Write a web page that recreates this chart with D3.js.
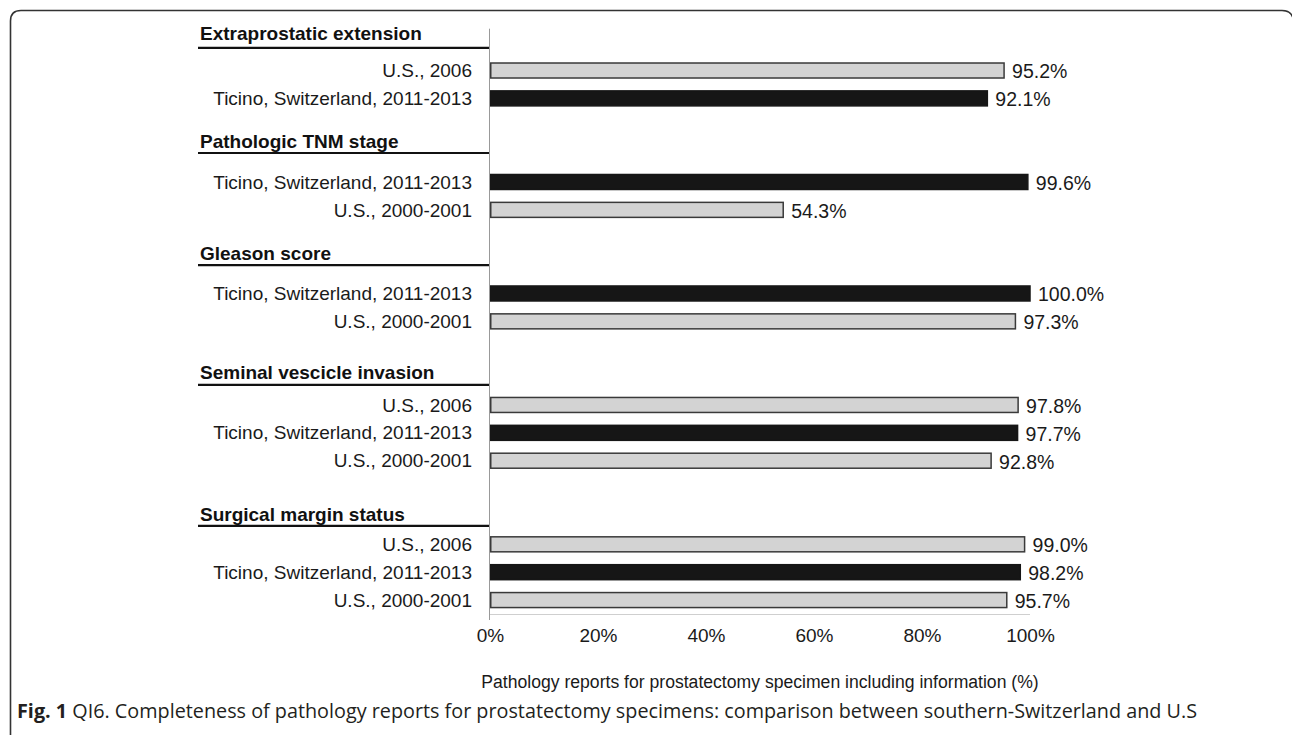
<!DOCTYPE html>
<html>
<head>
<meta charset="utf-8">
<script src="https://cdn.jsdelivr.net/npm/d3@7"></script>
<style>
  html, body { margin: 0; padding: 0; background: #fff; }
  svg { display: block; }
</style>
</head>
<body>
<svg id="chart" width="1292" height="735"></svg>
<script>
// ---------- data ----------
const groupTitles = ["Extraprostatic extension", "Pathologic TNM stage", "Gleason score", "Seminal vescicle invasion", "Surgical margin status"];
const groupFirstRow = [1, 5, 9, 13, 18];
const rowLabels = ["",
  "U.S., 2006", "Ticino, Switzerland, 2011-2013", "", "",
  "Ticino, Switzerland, 2011-2013", "U.S., 2000-2001", "", "",
  "Ticino, Switzerland, 2011-2013", "U.S., 2000-2001", "", "",
  "U.S., 2006", "Ticino, Switzerland, 2011-2013", "U.S., 2000-2001", "", "",
  "U.S., 2006", "Ticino, Switzerland, 2011-2013", "U.S., 2000-2001"];
const rowValues = [null,
  95.2, 92.1, null, null,
  99.6, 54.3, null, null,
  100.0, 97.3, null, null,
  97.8, 97.7, 92.8, null, null,
  99.0, 98.2, 95.7];
const xTicks = [0, 20, 40, 60, 80, 100];
const xTitle = "Pathology reports for prostatectomy specimen including information (%)";
const captionBold = "Fig. 1";
const captionText = " QI6. Completeness of pathology reports for prostatectomy specimens: comparison between southern-Switzerland and U.S";

// ---------- layout ----------
const svg = d3.select("#chart");
const FONT = "'Liberation Sans', Arial, sans-serif";

// frame
svg.append("path")
  .attr("d", "M10.5,740 L10.5,21 Q10.5,10.5 21,10.5 L1282,10.5 Q1292.5,10.5 1293.5,21 L1293.5,740")
  .attr("fill", "none").attr("stroke", "#333").attr("stroke-width", 1.6);

const x = d3.scaleLinear().domain([0, 100]).range([490, 1030]);
const y = d3.scaleBand().domain(d3.range(rowLabels.length)).range([28.7, 614]).paddingInner(0).paddingOuter(0);
const bw = y.bandwidth();
const barH = 15;

// bottom baseline
svg.append("line").attr("x1", x(0)).attr("x2", x(100))
  .attr("y1", y.range()[1] + 0.5).attr("y2", y.range()[1] + 0.5)
  .attr("stroke", "#cfcfcf").attr("stroke-width", 1);
// axis line (vertical)
svg.append("line").attr("x1", x(0) - 0.5).attr("x2", x(0) - 0.5)
  .attr("y1", y.range()[0]).attr("y2", y.range()[1] + 6)
  .attr("stroke", "#999").attr("stroke-width", 1);

// row labels
const rows = rowLabels.map((l, i) => ({ label: l, value: rowValues[i], i })).filter(d => d.value !== null);
svg.append("g").selectAll("text").data(rows).join("text")
  .attr("x", 472).attr("y", d => y(d.i) + bw / 2)
  .attr("dy", "0.35em").attr("text-anchor", "end")
  .attr("font-family", FONT).attr("font-size", 19).attr("fill", "#1a1a1a")
  .text(d => d.label);

// bars
svg.append("g").selectAll("rect").data(rows).join("rect")
  .attr("x", x(0) + 0.75)
  .attr("y", d => y(d.i) + (bw - barH) / 2)
  .attr("width", d => x(d.value) - x(0) - 0.75)
  .attr("height", barH)
  .attr("fill", d => d.label.startsWith("Ticino") ? "#161616" : "#d3d3d3")
  .attr("stroke", d => d.label.startsWith("Ticino") ? "#161616" : "#3a3a3a")
  .attr("stroke-width", 1.5);

// value labels
svg.append("g").selectAll("text").data(rows).join("text")
  .attr("x", d => x(d.value) + 8).attr("y", d => y(d.i) + bw / 2 + 1)
  .attr("dy", "0.35em")
  .attr("font-family", FONT).attr("font-size", 19.5).attr("fill", "#1a1a1a")
  .text(d => d.value.toFixed(1) + "%");

// group headers
const headerOffset = [-0.81, -1.04, -1.02, -0.72, -0.66];
const headerTextGap = [8, 5, 5, 6, 5];
const hg = svg.append("g");
groupTitles.forEach((t, k) => {
  const ly = y(groupFirstRow[k]) + bw / 2 + headerOffset[k] * bw;
  hg.append("line").attr("x1", 198).attr("x2", x(0) - 1)
    .attr("y1", ly).attr("y2", ly)
    .attr("stroke", "#111").attr("stroke-width", 2.2);
  hg.append("text").attr("x", 200).attr("y", ly - headerTextGap[k])
    .attr("font-family", FONT).attr("font-size", 19).attr("font-weight", "bold").attr("fill", "#111")
    .text(t);
});

// x axis tick labels
const xAxis = d3.axisBottom(x).tickValues(xTicks).tickSize(0).tickPadding(0).tickFormat(d => d + "%");
const xg = svg.append("g").attr("transform", `translate(0, 635)`).call(xAxis);
xg.select(".domain").remove();
xg.selectAll("text").attr("dy", "0.35em").attr("font-family", FONT).attr("font-size", 19).attr("fill", "#1a1a1a");

// x title
svg.append("text").attr("x", x(50)).attr("y", 682).attr("dy", "0.35em")
  .attr("text-anchor", "middle").attr("font-family", FONT).attr("font-size", 17.6).attr("fill", "#1a1a1a")
  .text(xTitle);

// caption (sized to span the same width as the original)
const cap = svg.append("text").attr("x", 17).attr("y", 711).attr("dy", "0.35em")
  .attr("font-family", "'Open Sans', 'Noto Sans', sans-serif").attr("font-size", 17).attr("fill", "#231f20");
cap.append("tspan").attr("font-weight", "bold").text(captionBold);
cap.append("tspan").text(captionText);
const capLen = cap.node().getComputedTextLength();
if (capLen > 0) cap.attr("font-size", 17 * (1198 - 17) / capLen);
</script>
</body>
</html>
